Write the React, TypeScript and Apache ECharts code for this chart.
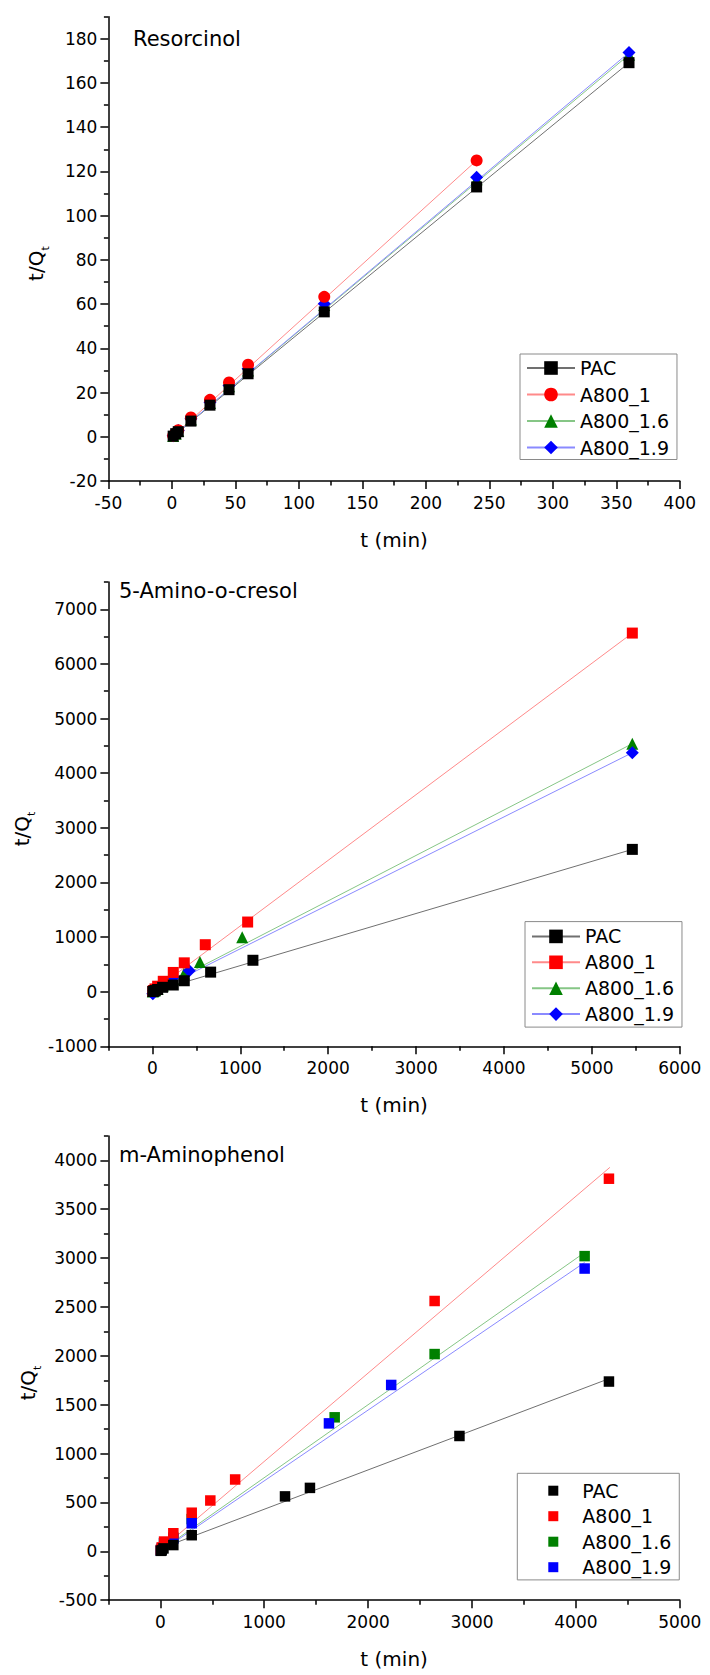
import React, { useEffect, useRef } from "react";
import * as echarts from "echarts";

const FONT = "DejaVu Sans";
const NAMES = ["PAC", "A800_1", "A800_1.6", "A800_1.9"];
const POINT_COLORS = ["#000000", "#ff0000", "#008000", "#0000ff"];
const LINE_COLORS = ["#707070", "#ff8a8a", "#86c686", "#8a8aff"];

// ---------- Panel 1: Resorcinol ----------
const resT_PAC = [1, 3, 5, 15, 30, 45, 60, 120, 240, 360];
const resV_PAC = [0.3, 1.4, 2.3, 7.1, 14.3, 21.3, 28.5, 56.5, 113.0, 169.2];
const resT_A1 = [1, 3, 5, 15, 30, 45, 60, 120, 240];
const resV_A1 = [0.5, 1.6, 3.0, 8.7, 16.7, 24.6, 32.6, 63.3, 125.0];
const resT_A16 = [1, 3, 5, 15, 30, 45, 60, 120, 240, 360];
const resV_A16 = [0.4, 1.4, 2.6, 7.8, 15.3, 22.8, 30.0, 59.6, 116.5, 172.8];
const resT_A19 = [1, 3, 5, 15, 30, 45, 60, 120, 240, 360];
const resV_A19 = [0.5, 1.5, 2.8, 8.2, 15.6, 23.2, 30.8, 60.2, 117.4, 173.8];
// fitted lines (start, end)
const resFit_PAC = [[1, 0.2], [360, 169.2]];
const resFit_A1 = [[1, 0.3], [240, 125.0]];
const resFit_A16 = [[1, 0.2], [360, 172.8]];
const resFit_A19 = [[1, 0.2], [360, 173.8]];
const resXMajor = [-50, 0, 50, 100, 150, 200, 250, 300, 350, 400];
const resXMinor = [-25, 25, 75, 125, 175, 225, 275, 325, 375];
const resYMajor = [-20, 0, 20, 40, 60, 80, 100, 120, 140, 160, 180];
const resYMinor = [-10, 10, 30, 50, 70, 90, 110, 130, 150, 170, 190];

// ---------- Panel 2: 5-Amino-o-cresol ----------
const acT_PAC = [5, 15, 30, 60, 117, 238, 363, 663, 1144, 5460];
const acV_PAC = [3, 10, 20, 40, 80, 122, 200, 358, 575, 2605];
const acT_A1 = [5, 15, 30, 60, 124, 238, 363, 602, 1084, 5460];
const acV_A1 = [8, 22, 50, 100, 190, 352, 528, 860, 1275, 6565];
const acT_A16 = [5, 15, 30, 60, 120, 240, 360, 541, 1022, 5460];
const acV_A16 = [5, 14, 28, 55, 115, 225, 330, 545, 995, 4540];
const acT_A19 = [5, 15, 30, 60, 124, 238, 420, 5460];
const acV_A19 = [-40, 15, 30, 60, 150, 260, 385, 4375];
const acFit_PAC = [[0, 0], [5460, 2605]];
const acFit_A1 = [[0, 0], [5460, 6565]];
const acFit_A16 = [[0, 0], [5460, 4540]];
const acFit_A19 = [[0, -20], [5460, 4375]];
const acXMajor = [0, 1000, 2000, 3000, 4000, 5000, 6000];
const acXMinor = [-500, 500, 1500, 2500, 3500, 4500, 5500];
const acYMajor = [-1000, 0, 1000, 2000, 3000, 4000, 5000, 6000, 7000];
const acYMinor = [-500, 500, 1500, 2500, 3500, 4500, 5500, 6500, 7500];

// ---------- Panel 3: m-Aminophenol ----------
const amT_PAC = [5, 13, 30, 125, 302, 1200, 1440, 2879, 4318];
const amV_PAC = [5, 10, 30, 64, 165, 562, 649, 1180, 1737];
const amT_A1 = [5, 13, 36, 125, 302, 481, 720, 2640, 4318];
const amV_A1 = [15, 40, 100, 185, 395, 520, 735, 2561, 3812];
const amT_A16 = [5, 15, 36, 125, 302, 1678, 2640, 4084];
const amV_A16 = [8, 25, 80, 140, 330, 1371, 2018, 3020];
const amT_A19 = [5, 15, 36, 125, 302, 1623, 2222, 4084];
const amV_A19 = [8, 30, 85, 130, 287, 1309, 1702, 2893];
const amFit_PAC = [[5, 30], [4318, 1766]];
const amFit_A1 = [[5, 20], [4327, 3928]];
const amFit_A16 = [[5, 10], [4084, 3057]];
const amFit_A19 = [[5, 0], [4084, 2955]];
const amXMajor = [0, 1000, 2000, 3000, 4000, 5000];
const amXMinor = [-500, 500, 1500, 2500, 3500, 4500];
const amYMajor = [-500, 0, 500, 1000, 1500, 2000, 2500, 3000, 3500, 4000];
const amYMinor = [-250, 250, 750, 1250, 1750, 2250, 2750, 3250, 3750, 4250];

const zip = (t: number[], v: number[]) => t.map((x, i) => [x, v[i]]);

type Panel = {
  title: string;
  top: number;
  xMin: number; xMax: number; yMin: number; yMax: number;
  xMajor: number[]; xMinor: number[]; yMajor: number[]; yMinor: number[];
  points: number[][][];
  fits: number[][][];
  symbols: string[];
  sizes: number[];
  lineLegend: boolean;
  legend: { left: number; top: number; padding: number[]; itemGap: number };
  titlePos: number[];
  yNamePos: number[];
};

const panels: Panel[] = [
  {
    title: "Resorcinol",
    top: 16.7,
    xMin: -50, xMax: 400, yMin: -20, yMax: 190,
    xMajor: resXMajor, xMinor: resXMinor, yMajor: resYMajor, yMinor: resYMinor,
    points: [zip(resT_PAC, resV_PAC), zip(resT_A1, resV_A1), zip(resT_A16, resV_A16), zip(resT_A19, resV_A19)],
    fits: [resFit_PAC, resFit_A1, resFit_A16, resFit_A19],
    symbols: ["rect", "circle", "triangle", "diamond"],
    sizes: [11, 12, 12, 13],
    lineLegend: true,
    legend: { left: 520, top: 354, padding: [4, 8, 2, 6], itemGap: 6.5 },
    titlePos: [133, 38.5],
    yNamePos: [36, 263.6],
  },
  {
    title: "5-Amino-o-cresol",
    top: 582,
    xMin: -500, xMax: 6000, yMin: -1000, yMax: 7500,
    xMajor: acXMajor, xMinor: acXMinor, yMajor: acYMajor, yMinor: acYMinor,
    points: [zip(acT_PAC, acV_PAC), zip(acT_A1, acV_A1), zip(acT_A16, acV_A16), zip(acT_A19, acV_A19)],
    fits: [acFit_PAC, acFit_A1, acFit_A16, acFit_A19],
    symbols: ["rect", "rect", "triangle", "diamond"],
    sizes: [11, 11, 12, 13],
    lineLegend: true,
    legend: { left: 525, top: 921.6, padding: [4.8, 8, 3, 6], itemGap: 5.9 },
    titlePos: [119, 591.4],
    yNamePos: [22, 829],
  },
  {
    title: "m-Aminophenol",
    top: 1135.9,
    xMin: -500, xMax: 5000, yMin: -500, yMax: 4250,
    xMajor: amXMajor, xMinor: amXMinor, yMajor: amYMajor, yMinor: amYMinor,
    points: [zip(amT_PAC, amV_PAC), zip(amT_A1, amV_A1), zip(amT_A16, amV_A16), zip(amT_A19, amV_A19)],
    fits: [amFit_PAC, amFit_A1, amFit_A16, amFit_A19],
    symbols: ["rect", "rect", "rect", "rect"],
    sizes: [10.5, 10.5, 10.5, 10.5],
    lineLegend: false,
    legend: { left: 517.3, top: 1473.3, padding: [7.4, 8, 2.7, 31], itemGap: 5.5 },
    titlePos: [119, 1155.3],
    yNamePos: [28, 1383],
  },
];

const GRID_LEFT = 108.4;
const GRID_WIDTH = 571.4;
const GRID_HEIGHT = 464.3;

const fmt = (v: number) => String(v);

function mainAxis(gridIndex: number, position: string, min: number, max: number, majors: number[], isX: boolean) {
  return {
    type: "value",
    gridIndex,
    position,
    min,
    max,
    axisLine: { show: true, onZero: false, lineStyle: { color: "#000", width: 1.5 } },
    axisTick: { show: true, inside: false, length: 8, customValues: majors, lineStyle: { color: "#000", width: 1.5 } },
    axisLabel: {
      show: true,
      customValues: majors,
      formatter: fmt,
      margin: isX ? 13 : 11,
      fontSize: 17,
      fontFamily: FONT,
      color: "#000",
    },
    splitLine: { show: false },
  };
}

function minorAxis(gridIndex: number, position: string, min: number, max: number, minors: number[]) {
  return {
    type: "value",
    gridIndex,
    position,
    min,
    max,
    axisLine: { show: false, onZero: false },
    axisTick: { show: true, inside: false, length: 4.5, customValues: minors, lineStyle: { color: "#000", width: 1.5 } },
    axisLabel: { show: false },
    splitLine: { show: false },
  };
}

function buildOption() {
  const grid: any[] = [];
  const xAxis: any[] = [];
  const yAxis: any[] = [];
  const series: any[] = [];
  const legend: any[] = [];
  const graphic: any[] = [];

  panels.forEach((p, i) => {
    grid.push({ left: GRID_LEFT, top: p.top, width: GRID_WIDTH, height: GRID_HEIGHT, outerBoundsMode: "none", containLabel: false });
    xAxis.push(mainAxis(i, "bottom", p.xMin, p.xMax, p.xMajor, true));
    xAxis.push(minorAxis(i, "bottom", p.xMin, p.xMax, p.xMinor));
    yAxis.push(mainAxis(i, "left", p.yMin, p.yMax, p.yMajor, false));
    yAxis.push(minorAxis(i, "left", p.yMin, p.yMax, p.yMinor));

    // fitted lines
    NAMES.forEach((n, k) => {
      series.push({
        type: "line",
        name: p.lineLegend ? `${n}#${i}` : `${n}#fit${i}`,
        xAxisIndex: 2 * i,
        yAxisIndex: 2 * i,
        data: p.fits[k],
        showSymbol: false,
        symbol: p.symbols[k],
        symbolSize: p.sizes[k],
        lineStyle: { color: LINE_COLORS[k], width: 1 },
        itemStyle: { color: POINT_COLORS[k] },
        z: 2,
        silent: true,
      });
    });
    // points: drawn green, blue, red, black (black on top)
    [2, 3, 1, 0].forEach((k) => {
      series.push({
        type: "scatter",
        name: p.lineLegend ? `${NAMES[k]}#pts${i}` : `${NAMES[k]}#${i}`,
        xAxisIndex: 2 * i,
        yAxisIndex: 2 * i,
        data: p.points[k],
        symbol: p.symbols[k],
        symbolSize: p.sizes[k],
        itemStyle: { color: POINT_COLORS[k], opacity: 1 },
        z: 3,
        silent: true,
      });
    });

    const lg: any = {
      orient: "vertical",
      left: p.legend.left,
      top: p.legend.top,
      padding: p.legend.padding,
      itemGap: p.legend.itemGap,
      data: NAMES.map((n) => `${n}#${i}`),
      formatter: (name: string) => name.split("#")[0],
      selectedMode: false,
      borderColor: "#8a8a8a",
      borderWidth: 1,
      backgroundColor: "#fff",
      align: "left",
      textStyle: { fontSize: 19, fontFamily: FONT, color: "#000", lineHeight: 20 },
    };
    if (p.lineLegend) {
      lg.itemWidth = 48;
      lg.itemHeight = 17;
    } else {
      lg.itemWidth = 10;
      lg.itemHeight = 10;
      lg.textStyle = { ...lg.textStyle, padding: [0, 0, 0, 19] };
    }
    legend.push(lg);

    graphic.push({
      type: "text",
      x: p.titlePos[0],
      y: p.titlePos[1],
      style: { text: p.title, fontSize: 21, fontFamily: FONT, fill: "#000", align: "left", verticalAlign: "middle" },
    });
    graphic.push({
      type: "text",
      x: GRID_LEFT + GRID_WIDTH / 2,
      y: p.top + GRID_HEIGHT + 58.7,
      style: { text: "t (min)", fontSize: 20, fontFamily: FONT, fill: "#000", align: "center", verticalAlign: "middle" },
    });
    graphic.push({
      type: "text",
      x: p.yNamePos[0],
      y: p.yNamePos[1],
      rotation: Math.PI / 2,
      style: {
        text: "{m|t/Q}{s|t}",
        fill: "#000",
        align: "center",
        verticalAlign: "middle",
        rich: {
          m: { fontSize: 20, fontFamily: FONT, lineHeight: 30, verticalAlign: "middle", fill: "#000" },
          s: { fontSize: 11, fontFamily: FONT, lineHeight: 12, verticalAlign: "bottom", fill: "#000" },
        },
      },
    });
  });

  return {
    animation: false,
    backgroundColor: "#ffffff",
    grid,
    xAxis,
    yAxis,
    legend,
    series,
    graphic,
  };
}

export default function App() {
  const ref = useRef<HTMLDivElement>(null);
  useEffect(() => {
    document.body.style.margin = "0";
    if (!ref.current) return;
    const chart = echarts.init(ref.current, undefined, { renderer: "svg" });
    chart.setOption(buildOption() as any);
    return () => chart.dispose();
  }, []);
  return (
    <div
      ref={ref}
      style={{ position: "absolute", left: 0, top: 0, width: 710, height: 1675, background: "#fff" }}
    />
  );
}
